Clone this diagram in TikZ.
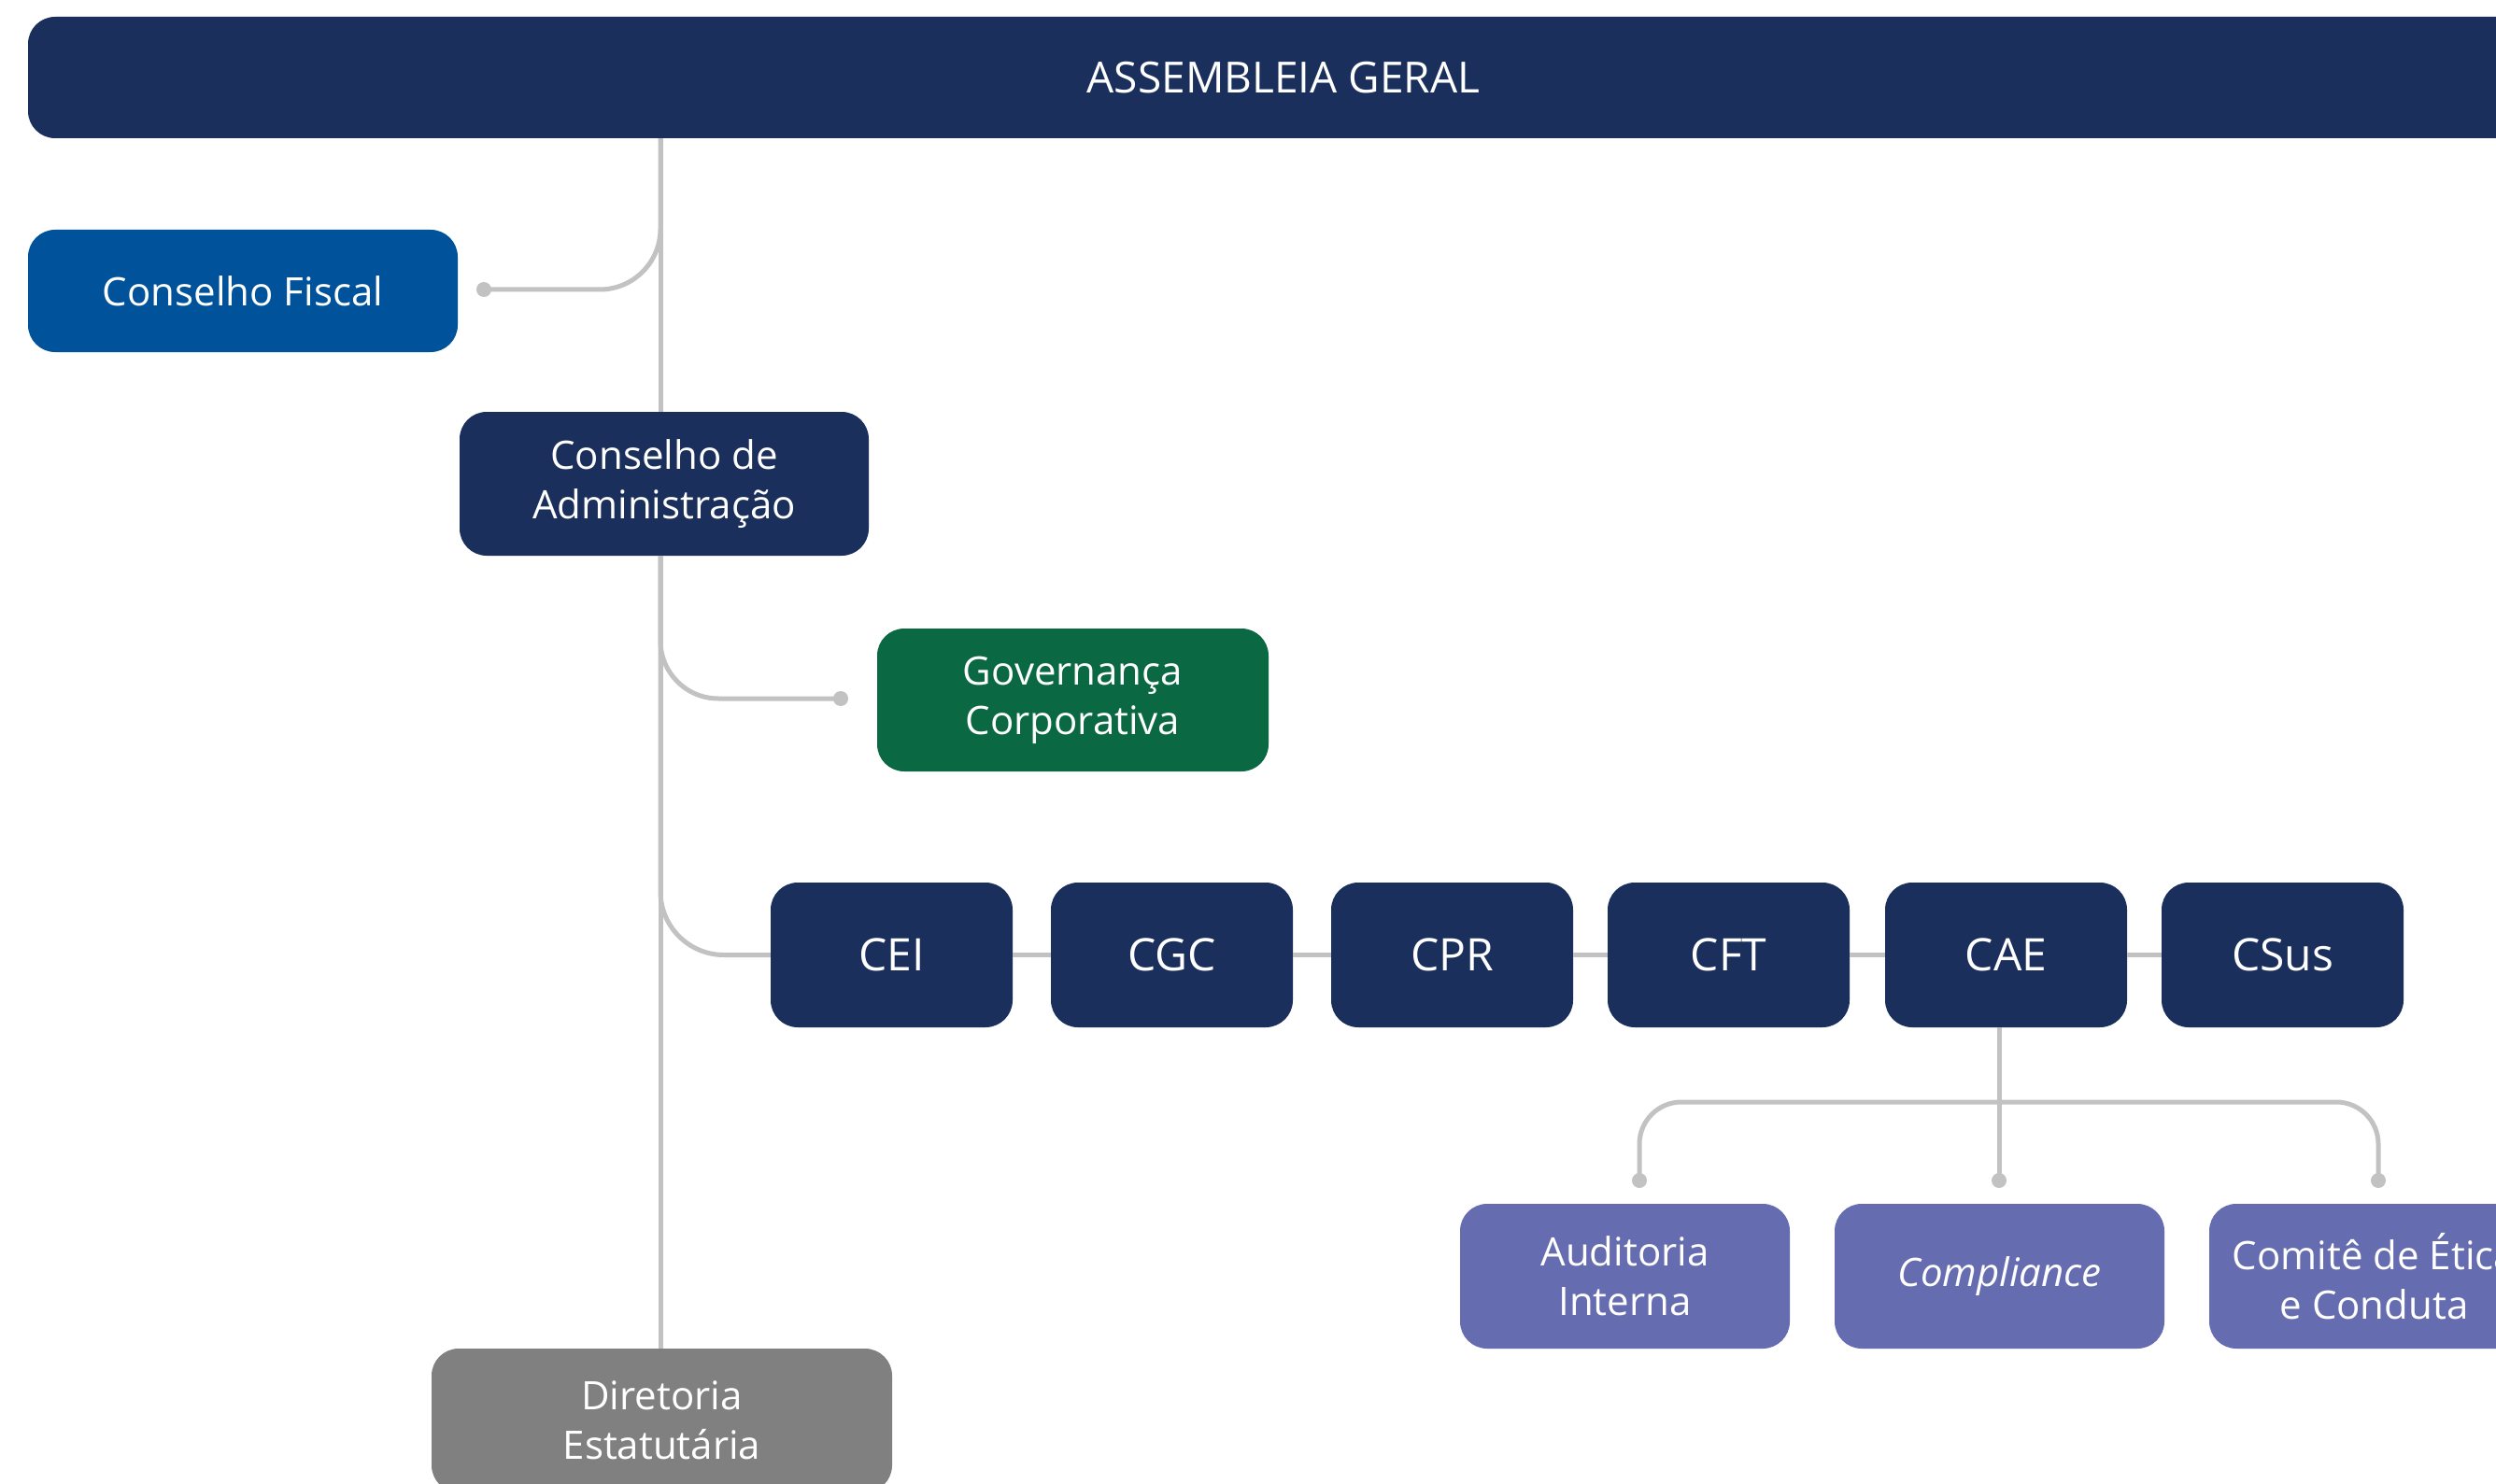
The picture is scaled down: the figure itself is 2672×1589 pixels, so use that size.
\documentclass[tikz,border=0pt]{standalone}
\usepackage{fontspec}
\setmainfont{Open Sans}
\definecolor{navy}{RGB}{26,47,91}
\definecolor{fiscal}{RGB}{0,82,155}
\definecolor{govgreen}{RGB}{10,104,66}
\definecolor{lilac}{RGB}{102,108,176}
\definecolor{dirgray}{RGB}{128,128,128}
\definecolor{conn}{RGB}{194,194,194}
\begin{document}
\begin{tikzpicture}[x=1pt,y=-1pt,
  box/.style={rectangle,rounded corners=29pt,inner sep=0pt,text=white,align=center,
     font=\fontsize{42}{53}\selectfont},
  comm/.style={box,fill=navy,minimum width=259pt,minimum height=155pt,font=\fontsize{48}{58}\selectfont},
  sub/.style={box,fill=lilac,minimum width=353pt,minimum height=155pt},
  link/.style={draw=conn,line width=5pt},
  dot/.style={fill=conn}]
\useasboundingbox (0,0) rectangle (2672,1589);
\clip (0,0) rectangle (2672,1589);
\fill[white] (0,0) rectangle (2672,1589);
\coordinate (trunk) at (707,0);
% nodes
\node[box,fill=navy,minimum width=2688pt,minimum height=130pt,font=\fontsize{46}{55}\selectfont] (ag) at (1374,83) {ASSEMBLEIA GERAL};
\node[box,fill=fiscal,minimum width=460pt,minimum height=131pt] (fis) at (260,311.5) {Conselho Fiscal};
\node[box,fill=navy,minimum width=438pt,minimum height=154pt] (cda) at (711,518) {Conselho de\\Administração};
\node[box,fill=govgreen,minimum width=419pt,minimum height=153pt] (gov) at (1148.5,749.5) {Governança\\Corporativa};
\node[comm] (cei) at (954.5,1022.5) {CEI};
\node[comm] (cgc) at (1254.5,1022.5) {CGC};
\node[comm] (cpr) at (1554.5,1022.5) {CPR};
\node[comm] (cft) at (1850.5,1022.5) {CFT};
\node[comm] (cae) at (2147.5,1022.5) {CAE};
\node[comm] (csus) at (2443.5,1022.5) {CSus};
\node[sub] (aud) at (1739.5,1366.5) {Auditoria\\Interna};
\node[sub] (comp) at (2140.5,1366.5) {\textit{Compliance}};
\node[sub] (etica) at (2541.5,1366.5) {Comitê de Ética\\e Conduta};
\node[box,fill=dirgray,minimum width=493pt,minimum height=154pt] (dir) at (708.5,1521) {Diretoria\\Estatutária};
% dot coordinates
\coordinate (dFis) at (518,310);
\coordinate (dGov) at (900,748);
\coordinate (dAud) at (1755,1264);
\coordinate (dComp) at (2140,1264);
\coordinate (dEt) at (2546,1264);
\coordinate (bar) at (0,1180);
% connectors
\draw[link] (ag.south -| trunk) -- (cda.north -| trunk);
\draw[link] (cda.south -| trunk) -- (dir.north -| trunk);
\draw[link,rounded corners=65pt] (ag.south -| trunk) |- (dFis);
\draw[link,rounded corners=62pt] (cda.south -| trunk) |- (dGov);
\draw[link,rounded corners=68pt] (cda.south -| trunk) |- (cei.west);
\draw[link] (cei.east) -- (cgc.west);
\draw[link] (cgc.east) -- (cpr.west);
\draw[link] (cpr.east) -- (cft.west);
\draw[link] (cft.east) -- (cae.west);
\draw[link] (cae.east) -- (csus.west);
\draw[link] (cae.south -| dComp) -- (dComp);
\draw[link,rounded corners=45pt] (dAud) -- (dAud |- bar) -- (dEt |- bar) -- (dEt);
\foreach \d in {dFis,dGov,dAud,dComp,dEt} \fill[dot] (\d) circle (8pt);
\end{tikzpicture}
\end{document}
